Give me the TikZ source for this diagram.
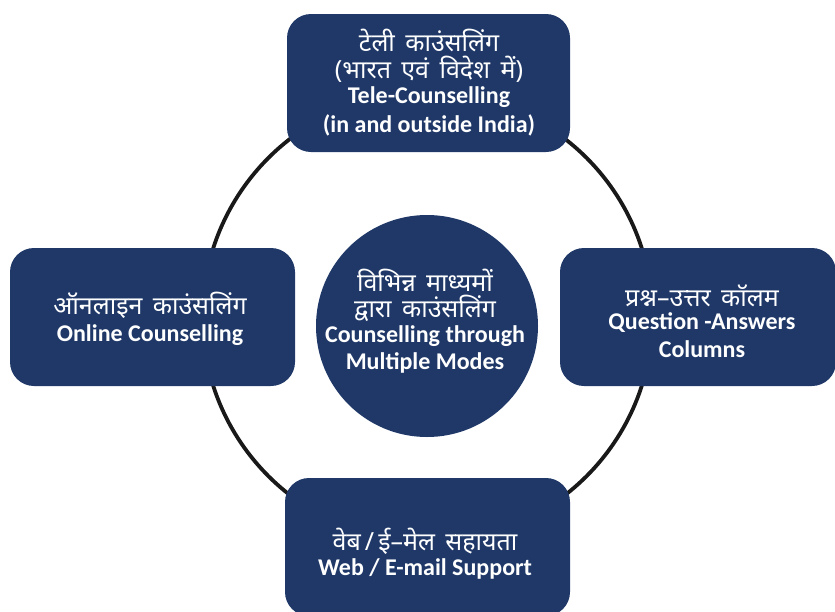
\documentclass[tikz,border=0pt]{standalone}
\usepackage{fontspec}
\setmainfont{Carlito}
\newfontfamily\hindi[Script=Devanagari,WordSpace=1.6]{Noto Sans}
\usepackage{tikz}

\definecolor{navy}{RGB}{31,56,104}

\tikzset{
    modebox/.style={fill=navy, rounded corners=24pt, text=white, align=center, inner sep=0pt},
    hin/.style={font=\hindi\fontsize{25}{28}\selectfont},
    eng/.style={font=\bfseries\fontsize{24}{27}\selectfont}
}

\begin{document}
\begin{tikzpicture}[x=1pt,y=-1pt]
    \useasboundingbox (0,0) rectangle (835,611);

    % Outer ring
    \draw[line width=3.8pt, black!90] (427.5,317) circle (225pt);

    % Mode boxes
    \node[modebox, minimum width=283pt, minimum height=138pt] (tele) at (428.5,83) {};
    \node[modebox, minimum width=285pt, minimum height=138pt] (online) at (152.5,317) {};
    \node[modebox, minimum width=276pt, minimum height=138pt] (qa) at (698,317) {};
    \node[modebox, minimum width=285pt, minimum height=138pt] (web) at (427.5,547) {};

    % Centre circle
    \node[circle, fill=navy, minimum size=222pt, inner sep=0pt] (centre) at (427,326) {};

    % Texts
    \node[hin, text=white] at (429,40) {टेली काउंसलिंग};
    \node[hin, text=white] at (429,69) {(भारत एवं विदेश में)};
    \node[eng, text=white] at (429,97) {Tele-Counselling};
    \node[eng, text=white] at (429,125) {(in and outside India)};

    \node[hin, text=white] at (150,305) {ऑनलाइन काउंसलिंग};
    \node[eng, text=white] at (150,335) {Online Counselling};

    \node[hin, text=white] at (702,296) {प्रश्न–उत्तर कॉलम};
    \node[eng, text=white] at (702,323) {Question -Answers};
    \node[eng, text=white] at (702,349) {Columns};

    \node[hin, text=white] at (425,541) {वेब\,/\,ई–मेल सहायता};
    \node[eng, text=white] at (425,569) {Web / E-mail Support};

    \node[hin, text=white] at (425,280) {विभिन्न माध्यमों};
    \node[hin, text=white] at (425,308) {द्वारा काउंसलिंग};
    \node[eng, text=white] at (425,336) {Counselling through};
    \node[eng, text=white] at (425,363) {Multiple Modes};
\end{tikzpicture}
\end{document}
